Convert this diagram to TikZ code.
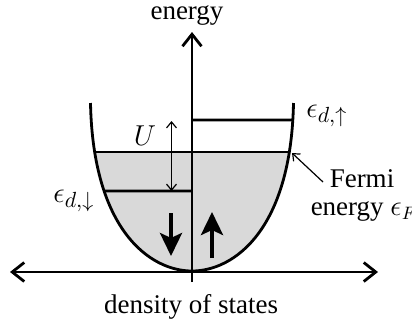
\documentclass[tikz,border=0pt]{standalone}
\usepackage{fontspec}
\setmainfont{Liberation Serif}
\usetikzlibrary{arrows.meta, intersections}
\definecolor{fillgray}{HTML}{D9D9D9}

\begin{document}
\begin{tikzpicture}[
    x=0.5pt, y=-0.5pt,
    axis/.style={line width=1.4pt},
    level/.style={line width=1.4pt},
    spin/.style={line width=2pt, -{Stealth[length=11.5pt, width=11pt, inset=2.5pt]}},
    thinarrow/.style={line width=0.6pt, >={Straight Barb[length=3pt, width=5pt]}},
    lbl/.style={font=\fontsize{13.5}{11}\selectfont, inner sep=0pt},
    mathlbl/.style={font=\fontsize{15.5}{12}\selectfont, inner sep=0pt},
    >={Straight Barb[length=6pt, width=9.5pt]}
  ]
  \useasboundingbox (0,0) rectangle (412,328);

  % band (density of states), filled up to the Fermi level
  \begin{scope}
    \clip (0,152) rectangle (412,328);
    \fill[fillgray] (90.5,103) .. controls (93,230) and (150,271) .. (192,271)
      .. controls (234,271) and (291,230) .. (293.5,103) -- cycle;
  \end{scope}
  \draw[axis, name path=dos] (90.5,103) .. controls (93,230) and (150,271) .. (192,271)
    .. controls (234,271) and (291,230) .. (293.5,103);

  % levels
  \path[name path=fermiline] (0,152) -- (412,152);
  \path[name path=upline] (192,120) -- (412,120);
  \path[name path=dnline] (0,191) -- (192,191);
  \path[name intersections={of=dos and fermiline, by={fl,fr}}];
  \path[name intersections={of=dos and upline, by={ur}}];
  \path[name intersections={of=dos and dnline, by={dl}}];
  \coordinate (upaxis) at (192,120);
  \coordinate (dnaxis) at (192,191);
  \draw[level] (fl) -- (fr);
  \draw[level] (upaxis) -- (ur);
  \draw[level] (dl) -- (dnaxis);

  % axes
  \coordinate (axbot) at (192,282);
  \coordinate (axtop) at (192,32);
  \coordinate (axleft) at (10,272);
  \coordinate (axright) at (378,272);
  \draw[axis, ->] (axbot) -- (axtop);
  \draw[axis, <->] (axleft) -- (axright);

  % U splitting
  \coordinate (utop) at (171.5,121);
  \coordinate (ubot) at (171.5,191);
  \draw[thinarrow, <->] (ubot) -- (utop);

  % spins
  \coordinate (dntail) at (171,213);
  \coordinate (dnhead) at (171,256);
  \coordinate (uptail) at (212,258);
  \coordinate (uphead) at (212,212);
  \draw[spin] (dntail) -- (dnhead);
  \draw[spin] (uptail) -- (uphead);

  % labels
  \node[lbl, anchor=base] (energy) at (187,19) {energy};
  \node[lbl, anchor=base] (doslabel) at (191,313) {density of states};
  \node[mathlbl, anchor=base] (ulabel) at (145,145) {$U$};
  \node[mathlbl, anchor=base west] (eup) at (306,117) {$\epsilon_{d,\uparrow}$};
  \node[mathlbl, anchor=base west] (edn) at (53,202) {$\epsilon_{d,\downarrow}$};
  \node[lbl, anchor=base] (fermi) at (362,187) {Fermi};
  \node[lbl, anchor=base] (fermienergy) at (364,215) {energy $\epsilon_F$};

  % pointer to the Fermi level
  \coordinate (fptr) at (292,153);
  \coordinate (ftail) at (323,182);
  \draw[thinarrow, ->] (ftail) -- (fptr);
\end{tikzpicture}
\end{document}
